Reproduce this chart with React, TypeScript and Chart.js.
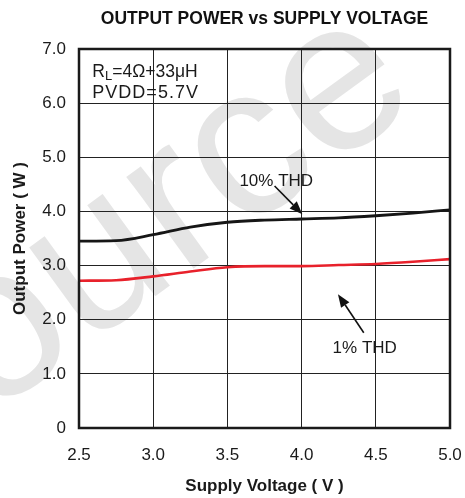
import React, { useEffect, useRef } from "react";
import { Chart, registerables } from "chart.js";

Chart.register(...registerables);

// ---- data ----
const xTickValues = [2.5, 3.0, 3.5, 4.0, 4.5, 5.0];
const yTickValues = [0, 1, 2, 3, 4, 5, 6, 7];
const supplyVoltage = [2.5, 2.75, 3.0, 3.25, 3.5, 3.75, 4.0, 4.25, 4.5, 4.75, 5.0];
const power10THD = [3.45, 3.46, 3.57, 3.71, 3.8, 3.84, 3.86, 3.88, 3.92, 3.97, 4.03];
const power1THD = [2.72, 2.73, 2.8, 2.89, 2.97, 2.99, 2.99, 3.01, 3.03, 3.07, 3.12];

const titleText = "OUTPUT POWER vs SUPPLY VOLTAGE";
const xTitle = "Supply Voltage ( V )";
const yTitle = "Output Power ( W )";
const label10 = "10% THD";
const label1 = "1% THD";
const watermarkText = "Source";

// annotation anchors in data space
const label10At = { x: 3.581, y: 4.47 };
const arrow10 = { from: { x: 3.818, y: 4.47 }, to: { x: 4.005, y: 3.95 } };
const label1At = { x: 4.209, y: 1.385 };
const arrow1 = { from: { x: 4.419, y: 1.76 }, to: { x: 4.245, y: 2.47 } };
const condAt = { x: 2.59, y1: 6.49, y2: 6.09 };

const FONT = '"Liberation Sans", Arial, Helvetica, sans-serif';

function drawArrow(ctx: CanvasRenderingContext2D, x1: number, y1: number, x2: number, y2: number) {
  const ang = Math.atan2(y2 - y1, x2 - x1);
  const headLen = 13;
  const headW = 5;
  const bx = x2 - headLen * Math.cos(ang);
  const by = y2 - headLen * Math.sin(ang);
  ctx.beginPath();
  ctx.moveTo(x1, y1);
  ctx.lineTo(bx, by);
  ctx.lineWidth = 1.6;
  ctx.strokeStyle = "#111";
  ctx.stroke();
  ctx.beginPath();
  ctx.moveTo(x2, y2);
  ctx.lineTo(bx + headW * Math.sin(ang), by - headW * Math.cos(ang));
  ctx.lineTo(bx - headW * Math.sin(ang), by + headW * Math.cos(ang));
  ctx.closePath();
  ctx.fillStyle = "#111";
  ctx.fill();
}

const watermarkPlugin = {
  id: "watermark",
  beforeDraw(chart: any) {
    const ctx = chart.ctx as CanvasRenderingContext2D;
    ctx.save();
    ctx.fillStyle = "#fff";
    ctx.fillRect(0, 0, chart.width, chart.height);
    ctx.translate(-128, 502);
    ctx.rotate((-36 * Math.PI) / 180);
    ctx.font = `215px ${FONT}`;
    ctx.fillStyle = "#e5e5e5";
    ctx.textBaseline = "alphabetic";
    ctx.fillText(watermarkText, 0, 0);
    ctx.restore();
  },
};

const framePlugin = {
  id: "frameAndNotes",
  afterDatasetsDraw(chart: any) {
    const ctx = chart.ctx as CanvasRenderingContext2D;
    const xs = chart.scales.x;
    const ys = chart.scales.y;
    const px = (v: number) => xs.getPixelForValue(v);
    const py = (v: number) => ys.getPixelForValue(v);
    const area = chart.chartArea;
    ctx.save();
    // frame
    ctx.lineWidth = 2.5;
    ctx.strokeStyle = "#1a1a1a";
    ctx.strokeRect(area.left, area.top, area.right - area.left, area.bottom - area.top);

    // condition text
    ctx.fillStyle = "#1a1a1a";
    ctx.textBaseline = "alphabetic";
    ctx.textAlign = "left";
    const cx = px(condAt.x);
    const l1 = py(condAt.y1);
    ctx.font = `17.5px ${FONT}`;
    ctx.fillText("R", cx, l1);
    let w = ctx.measureText("R").width;
    ctx.font = `13px ${FONT}`;
    ctx.fillText("L", cx + w, l1 + 3.5);
    w += ctx.measureText("L").width;
    ctx.font = `17.5px ${FONT}`;
    ctx.fillText("=4Ω+33μH", cx + w, l1);
    (ctx as any).letterSpacing = "1px";
    ctx.font = `18px ${FONT}`;
    ctx.fillText("PVDD=5.7V", cx, py(condAt.y2));
    (ctx as any).letterSpacing = "0px";

    // curve labels
    ctx.font = `17px ${FONT}`;
    ctx.fillText(label10, px(label10At.x), py(label10At.y));
    ctx.fillText(label1, px(label1At.x), py(label1At.y));
    drawArrow(ctx, px(arrow10.from.x), py(arrow10.from.y), px(arrow10.to.x), py(arrow10.to.y));
    drawArrow(ctx, px(arrow1.from.x), py(arrow1.from.y), px(arrow1.to.x), py(arrow1.to.y));

    // title
    ctx.font = `bold 17.5px ${FONT}`;
    ctx.textAlign = "center";
    ctx.fillText(titleText, (area.left + area.right) / 2, 23.5);
    ctx.restore();
  },
};

export default function App() {
  const ref = useRef<HTMLCanvasElement | null>(null);
  useEffect(() => {
    if (!ref.current) return;
    const chart = new Chart(ref.current, {
      type: "line",
      data: {
        datasets: [
          {
            label: label10,
            data: supplyVoltage.map((v, i) => ({ x: v, y: power10THD[i] })),
            borderColor: "#161616",
            borderWidth: 2.8,
            pointRadius: 0,
            cubicInterpolationMode: "monotone",
          },
          {
            label: label1,
            data: supplyVoltage.map((v, i) => ({ x: v, y: power1THD[i] })),
            borderColor: "#e8212b",
            borderWidth: 2.6,
            pointRadius: 0,
            cubicInterpolationMode: "monotone",
          },
        ],
      },
      options: {
        animation: false,
        responsive: false,
        devicePixelRatio: 1,
        layout: { padding: { top: 49, right: 15, left: 0, bottom: 0 } },
        plugins: { legend: { display: false }, tooltip: { enabled: false }, title: { display: false } },
        scales: {
          x: {
            type: "linear",
            min: 2.5,
            max: 5.0,
            afterBuildTicks: (s: any) => {
              s.ticks = xTickValues.map((v) => ({ value: v }));
            },
            afterFit: (s: any) => {
              s.height = 70;
              s.paddingLeft = 0;
              s.paddingRight = 0;
            },
            ticks: {
              padding: 17,
              color: "#1a1a1a",
              font: { family: FONT, size: 17 },
              maxRotation: 0,
              callback: (v: any) => Number(v).toFixed(1),
            },
            grid: { color: "#222", lineWidth: 1, drawTicks: false },
            border: { display: false },
            title: {
              display: true,
              text: xTitle,
              color: "#1a1a1a",
              font: { family: FONT, size: 17, weight: "bold" },
              padding: { top: 0, bottom: 1 },
            },
          },
          y: {
            type: "linear",
            min: 0,
            max: 7,
            afterBuildTicks: (s: any) => {
              s.ticks = yTickValues.map((v) => ({ value: v }));
            },
            afterFit: (s: any) => {
              s.width = 79;
            },
            ticks: {
              padding: 13,
              color: "#1a1a1a",
              font: { family: FONT, size: 17 },
              callback: (v: any) => (Number(v) === 0 ? "0" : Number(v).toFixed(1)),
            },
            grid: { color: "#222", lineWidth: 1, drawTicks: false },
            border: { display: false },
            title: {
              display: true,
              text: yTitle,
              color: "#1a1a1a",
              font: { family: FONT, size: 17, weight: "bold" },
              padding: { top: 10, bottom: 0 },
            },
          },
        },
      },
      plugins: [watermarkPlugin, framePlugin],
    } as any);
    return () => chart.destroy();
  }, []);
  return (
    <div style={{ position: "fixed", left: 0, top: 0, width: 465, height: 498, background: "#fff" }}>
      <canvas ref={ref} width={465} height={498} style={{ display: "block", width: 465, height: 498 }} />
    </div>
  );
}
